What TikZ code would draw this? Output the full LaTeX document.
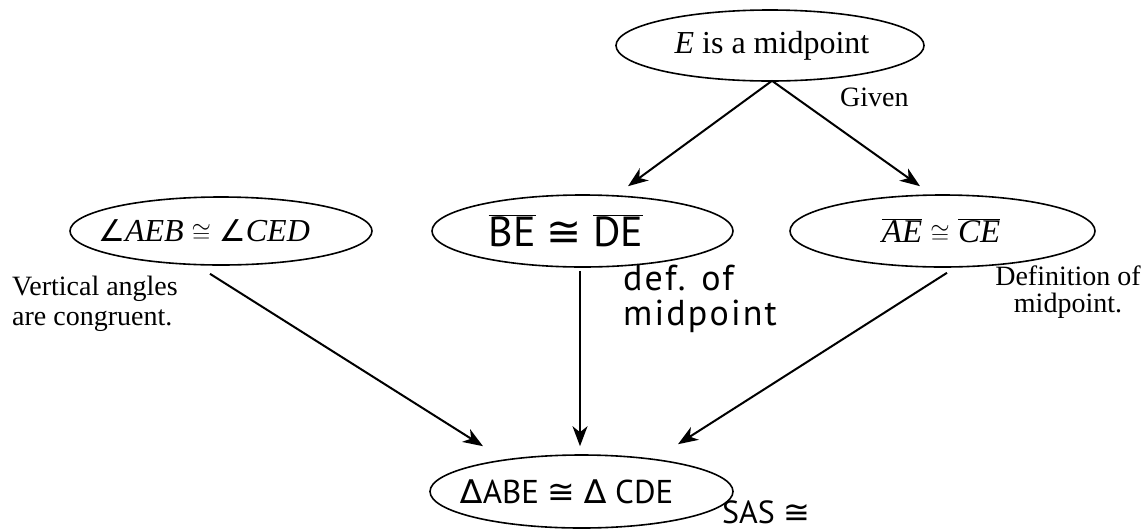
\documentclass[tikz,border=0pt]{standalone}
\usepackage{fontspec}
\setmainfont{Liberation Serif}
\newfontfamily\hand{PT Sans}
\newfontfamily\handw[LetterSpace=6]{PT Sans}
\newfontfamily\handsym{DejaVu Sans}
\usetikzlibrary{shapes.geometric,arrows.meta,calc}
\newcommand\fsz[2]{\fontsize{#1}{#2}\selectfont}
\newcommand\ang{{\handsym\itshape\fontsize{30}{30}\selectfont ∠}}
\newcommand\shifted[2]{\makebox[0pt]{#2\kern#1}}
\begin{document}
\begin{tikzpicture}[x=1pt,y=-1pt,
  oval/.style={ellipse,draw,line width=1.6pt,inner sep=0pt},
  arr/.style={-{Stealth[length=20pt,width=15pt,inset=6pt]},line width=2pt},
  lbl/.style={inner sep=0pt}]
\useasboundingbox (0,0) rectangle (1145,531);

\node[oval,minimum width=308pt,minimum height=71pt] (T) at (770,45.5)
  {\fsz{32}{36}\shifted{-4pt}{\textit{E} is a midpoint}};
\node[oval,minimum width=302pt,minimum height=68pt] (L) at (221,231)
  {\fsz{32}{36}\shifted{34pt}{\ang\textit{AEB} $\cong$ \ang\textit{CED}}};
\node[oval,minimum width=301pt,minimum height=72pt] (M) at (582.5,231)
  {\hand\fsz{42}{46}\shifted{33pt}{$\overline{\mbox{BE}}$ {\handsym ≅} $\overline{\mbox{DE}}$}};
\node[oval,minimum width=305pt,minimum height=72pt] (R) at (942.5,231)
  {\fsz{33}{36}\shifted{3pt}{$\overline{\mbox{\textit{AE}}}$ $\cong$ $\overline{\mbox{\textit{CE}}}$}};
\node[oval,minimum width=303pt,minimum height=73pt] (B) at (581.5,491.5)
  {\hand\fsz{33}{36}\shifted{29pt}{{\handsym ∆}ABE {\handsym ≅} {\handsym ∆} CDE}};

\node[lbl,anchor=west,font=\fsz{28}{30}] (given) at (840,97) {Given};
\node[lbl,anchor=north west,align=left,font=\fsz{28}{30}] (vert) at (12,276)
  {Vertical angles\\are congruent.};
\node[lbl,anchor=north,align=center,font=\fsz{28}{27}] (defn) at (1068,266)
  {Definition of\\midpoint.};
\node[lbl,anchor=north west,align=left,font=\handw\fsz{36}{35}] (defm) at (623,265)
  {def. of\\midpoint};
\node[lbl,anchor=base west,font=\hand\fsz{32}{36}] (sas) at (722,523) {SAS {\handsym ≅}};

\draw[arr] ($(T.south)+(2,-1)$) -- ($(M.north)+(45.5,-8)$);
\draw[arr] ($(T.south)+(2,-1)$) -- ($(R.north)+(-22.5,-8)$);
\draw[arr] ($(L.south)+(-11,8)$) -- ($(B.north)+(-98.5,-8)$);
\draw[arr] ($(M.south)+(-2.5,3)$) -- ($(B.north)+(-1.5,-8)$);
\draw[arr] ($(R.south)+(4.5,5)$) -- ($(B.north)+(96.5,-10)$);
\end{tikzpicture}
\end{document}
